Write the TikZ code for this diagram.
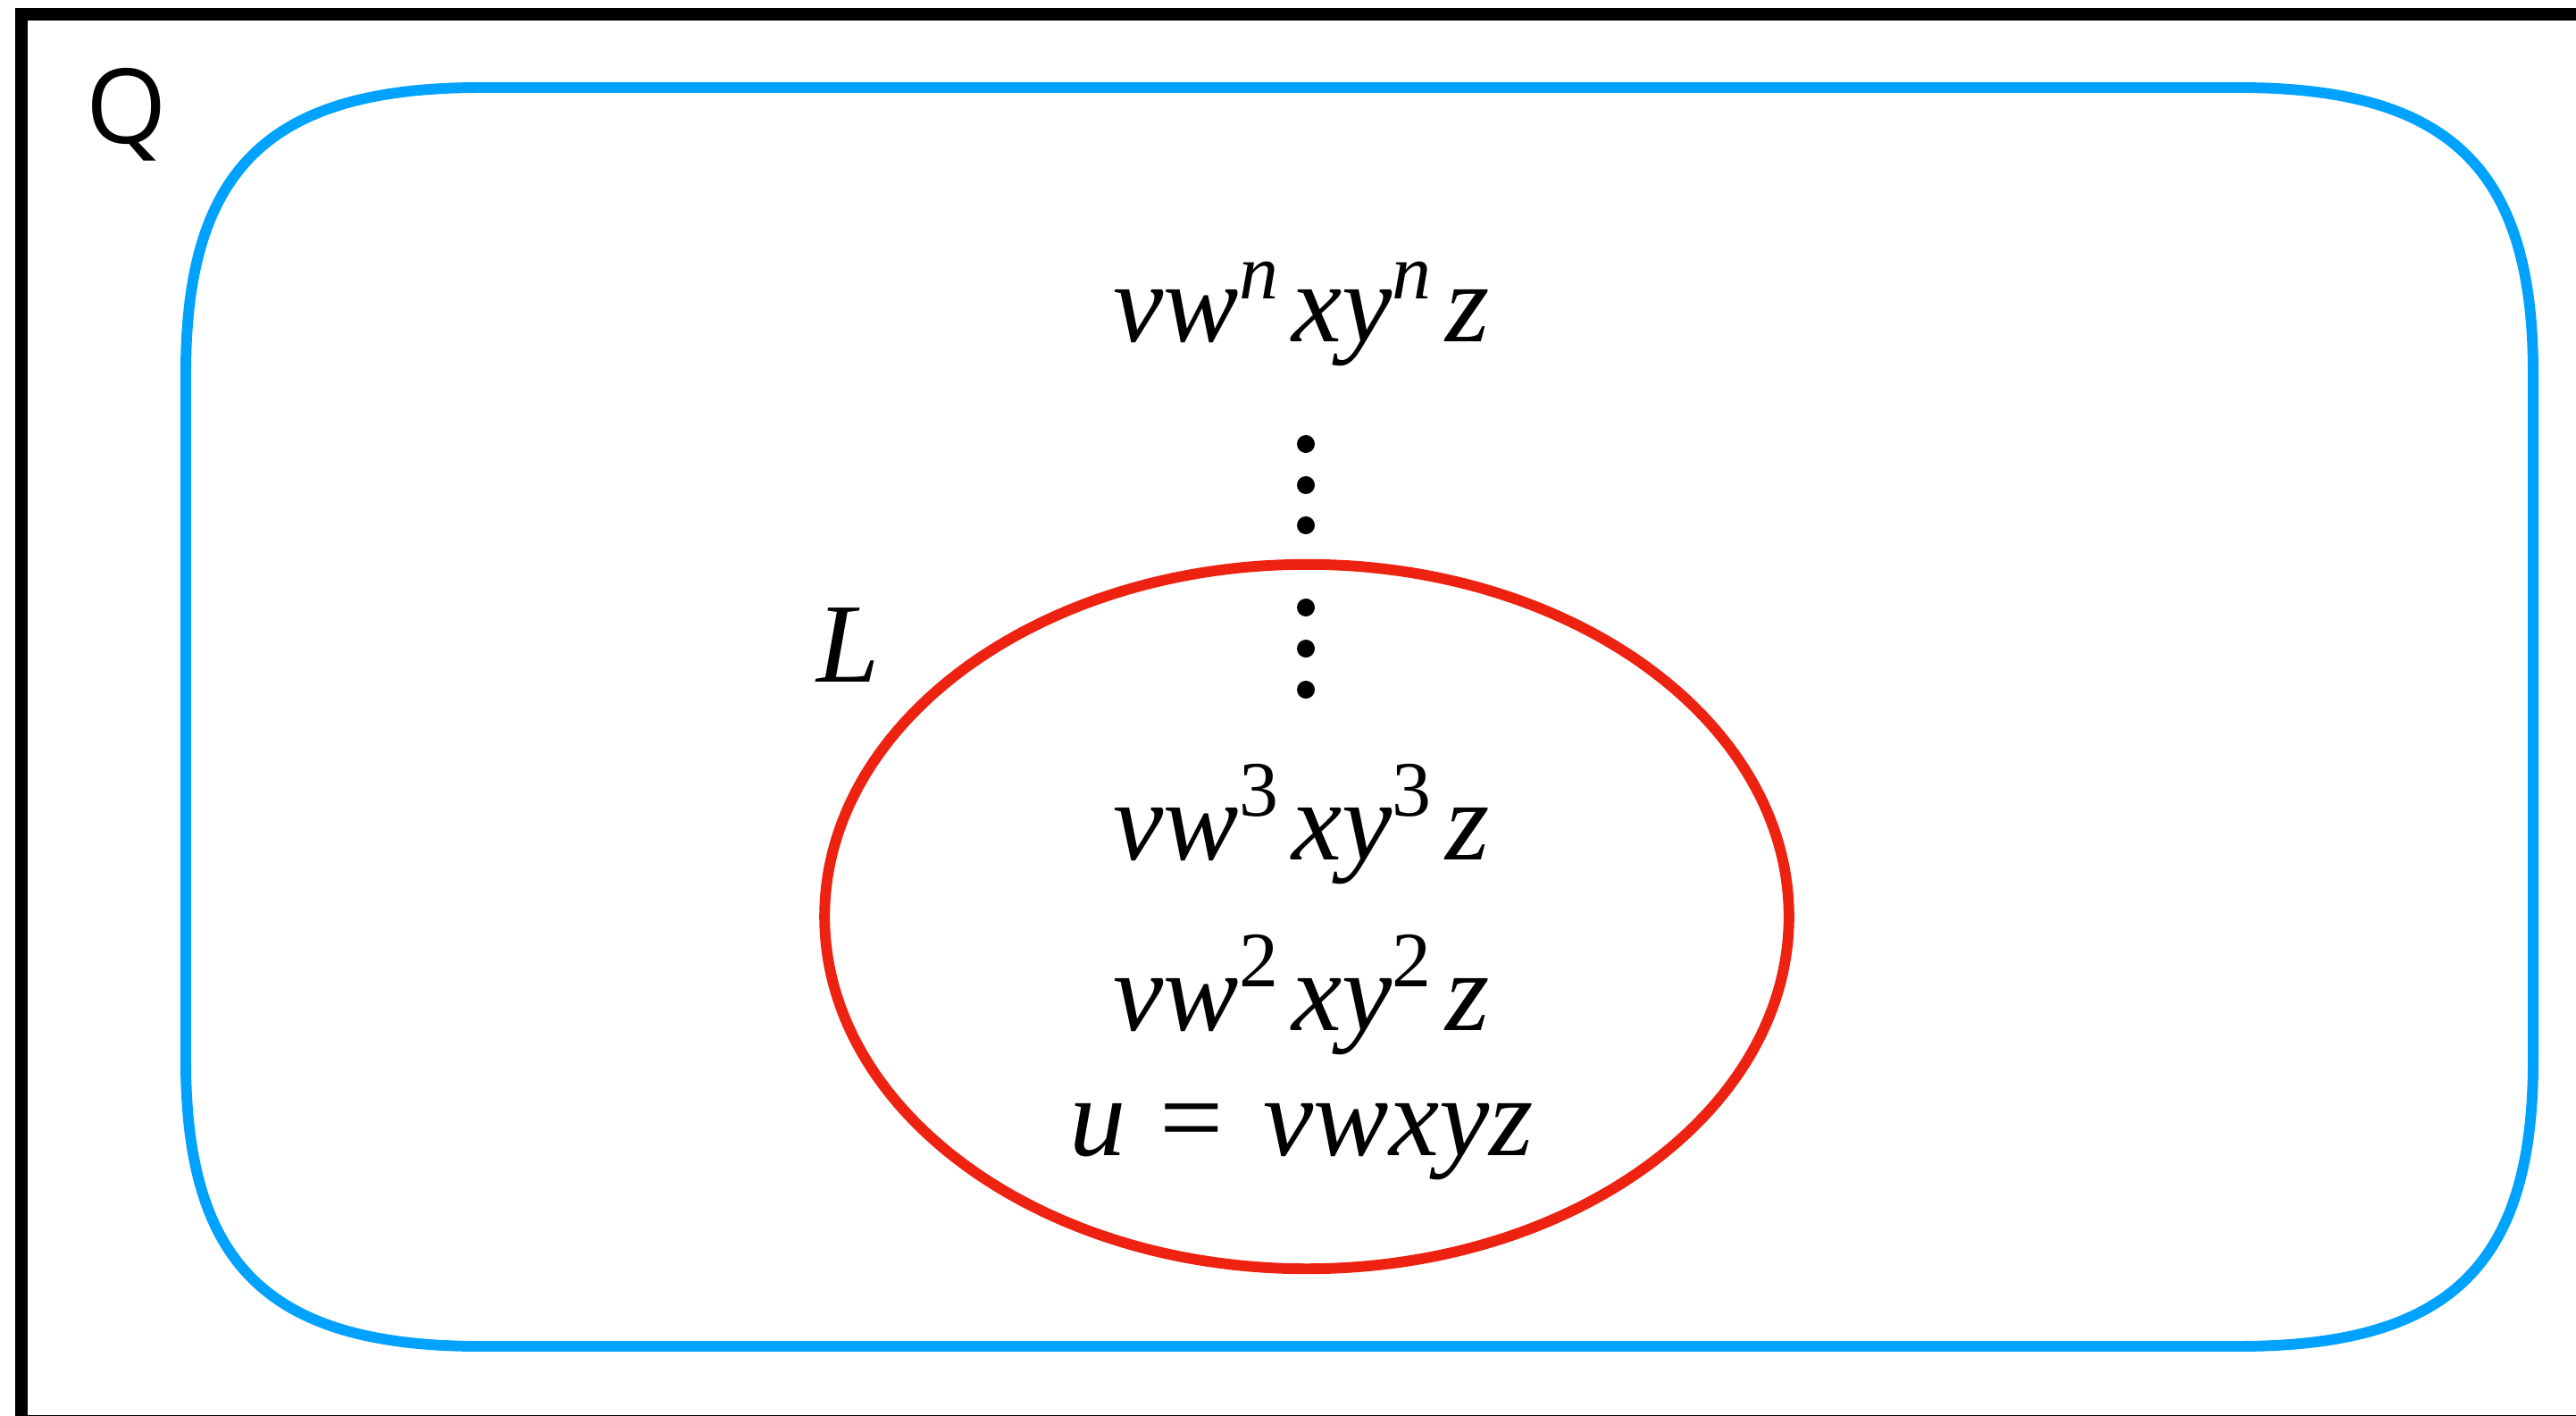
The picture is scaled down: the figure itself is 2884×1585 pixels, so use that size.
\documentclass[tikz,border=0pt]{standalone}
\usepackage{fontspec}
\setmainfont{Liberation Serif}
\newfontfamily\wfont{Liberation Serif}
\newfontfamily\qfont{Open Sans}
\usetikzlibrary{positioning}
\definecolor{qblue}{RGB}{0,162,255}
\definecolor{lred}{RGB}{238,34,17}
\newcommand\pw[1]{\/\raisebox{0.38em}{\fontsize{25}{25}\selectfont #1}\hspace{0.12em}}

\begin{document}
\begin{tikzpicture}[
    x=0.01cm, y=-0.01cm,
    frame/.style = {draw=black, line width=3.7pt},
    uni/.style   = {draw=qblue, line width=3.4pt},
    lang/.style  = {draw=lred, line width=3.4pt},
    word/.style  = {anchor=base, inner sep=0pt, font=\wfont\itshape\fontsize{36}{40}\selectfont},
    qlab/.style  = {anchor=base, inner sep=0pt, font=\qfont\fontsize{33}{33}\selectfont}
  ]

  \clip (0,0) rectangle (2884,1585);

  % --- outer frame ---
  \draw[frame] (24,16) rectangle (2910,1590);

  % --- set Q ---
  \draw[uni] (208,418) .. controls (208,190) and (300,98) .. (538,98)
    -- (2506,98) .. controls (2744,98) and (2836,190) .. (2836,418)
    -- (2836,1187) .. controls (2836,1415) and (2744,1507) .. (2506,1507)
    -- (538,1507) .. controls (300,1507) and (208,1415) .. (208,1187) -- cycle;
  \node[qlab] (Q) at (142,161) {Q};

  % --- language L ---
  \draw[lang] (1463,1026) ellipse [x radius=5.395cm, y radius=3.94cm];
  \node[word] (L) at (950,763) {L};

  % --- words ---
  \node[word] (wn) at (1457,383)  {vw\pw{n}xy\pw{n}z};
  \node[word] (w3) at (1457,962)  {vw\pw{\upshape 3}xy\pw{\upshape 3}z};
  \node[word] (w2) at (1457,1153) {vw\pw{\upshape 2}xy\pw{\upshape 2}z};
  \node[word] (u)  at (1457,1293) {u\hspace{0.3em}{\upshape =}\hspace{0.35em}vwxyz};

  % --- dots ---
  \foreach \y in {497,543,588,680,726,772}
    \fill (1462,\y) circle [radius=0.1cm];

\end{tikzpicture}
\end{document}
